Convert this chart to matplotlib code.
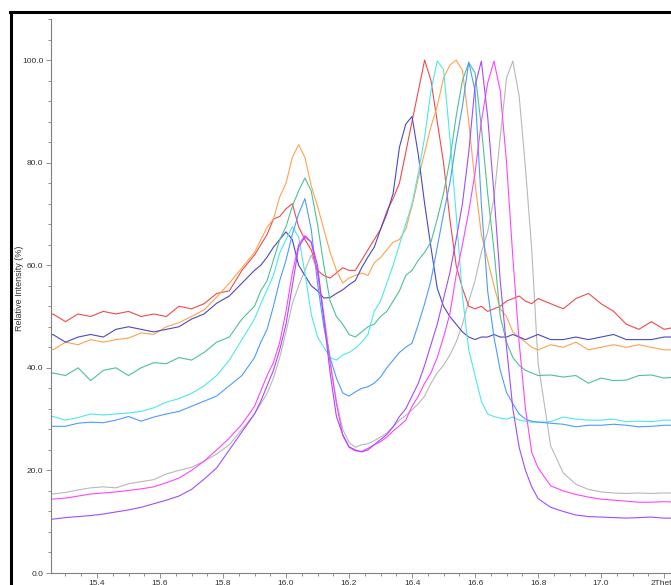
import matplotlib
matplotlib.use("Agg")
import matplotlib.pyplot as plt
from matplotlib.lines import Line2D
from matplotlib.ticker import MultipleLocator, FixedLocator, FixedFormatter

plt.rcParams['font.family'] = ['Liberation Sans', 'DejaVu Sans']

# 2Theta sampling (denser around the peaks)
two_theta = [15.22, 15.26, 15.30, 15.34, 15.38, 15.42, 15.46, 15.50, 15.54, 15.58,
             15.62, 15.66, 15.70, 15.74, 15.78, 15.82, 15.86, 15.90,
             15.92, 15.94, 15.96, 15.98, 16.00, 16.02, 16.04, 16.06, 16.08, 16.10,
             16.12, 16.14, 16.16, 16.18, 16.20, 16.22, 16.24, 16.26, 16.28, 16.30,
             16.32, 16.34, 16.36, 16.38, 16.40, 16.42, 16.44, 16.46, 16.48, 16.50,
             16.52, 16.54, 16.56, 16.58, 16.60, 16.62, 16.64, 16.66, 16.68, 16.70,
             16.72, 16.74, 16.76, 16.78, 16.80,
             16.84, 16.88, 16.92, 16.96, 17.00, 17.04, 17.08, 17.12, 17.16, 17.20, 17.24]

red = [49.5, 50.5, 49.0, 50.5, 50.0, 51.0, 50.5, 51.0, 50.0, 50.5, 50.0, 52.0, 51.5, 52.5, 54.5, 55.0, 59.0, 62.0,
       64.0, 66.0, 69.0, 69.5, 71.0, 72.0, 67.5, 65.0, 63.0, 59.0,
       58.0, 57.5, 58.5, 59.5, 59.0, 59.0, 61.0, 63.0, 65.0, 67.0,
       70.5, 73.0, 76.0, 82.0, 88.0, 94.0, 100.0, 96.0, 88.0, 80.0,
       69.0, 60.0, 55.5, 52.0, 51.5, 52.0, 51.0, 51.5, 52.0, 53.0,
       53.5, 54.0, 53.0, 52.5, 53.5,
       52.5, 51.5, 53.5, 54.5, 52.5, 51.0, 48.5, 47.5, 49.0, 47.5, 48.0]

orange = [44.5, 43.5, 45.0, 44.5, 45.5, 45.0, 45.5, 45.8, 46.8, 46.5, 48.0, 48.8, 50.0, 51.3, 53.8, 56.5, 59.5, 62.5,
          65.0, 67.4, 69.0, 73.3, 76.0, 81.0, 83.5, 81.0, 75.5, 71.5,
          67.0, 62.5, 59.0, 56.5, 57.5, 58.0, 58.5, 58.0, 60.5, 61.5,
          63.0, 64.5, 65.0, 67.0, 71.5, 77.0, 82.0, 87.0, 91.0, 96.5,
          99.0, 100.0, 98.0, 88.0, 76.0, 66.0, 61.0, 56.0, 51.5, 50.0,
          47.0, 46.0, 45.0, 44.0, 43.5,
          44.5, 44.0, 45.0, 43.5, 44.0, 44.5, 44.0, 44.5, 44.0, 43.5, 43.5]

navy = [45.5, 46.5, 45.0, 46.0, 46.5, 46.0, 47.5, 48.0, 47.5, 47.0, 47.5, 48.0, 49.5, 50.5, 52.6, 54.0, 56.5, 59.0,
        60.0, 61.6, 63.5, 65.0, 66.5, 65.0, 60.0, 58.0, 56.0, 55.0,
        53.6, 53.7, 54.5, 55.2, 56.2, 57.0, 59.5, 61.6, 63.5, 67.0,
        70.0, 74.0, 83.0, 87.5, 89.0, 81.5, 72.0, 63.5, 55.5, 52.0,
        50.0, 48.5, 47.0, 46.0, 45.5, 46.0, 46.0, 46.5, 46.0, 46.0,
        46.5, 46.0, 45.5, 46.0, 46.5,
        45.5, 45.5, 46.0, 45.5, 46.0, 46.5, 45.5, 45.5, 45.5, 46.0, 46.0]

green = [37.5, 39.0, 38.5, 40.0, 37.5, 39.5, 40.0, 38.5, 40.0, 41.0, 40.8, 42.0, 41.5, 43.0, 45.0, 46.0, 49.5, 52.0,
         55.0, 57.0, 61.0, 65.0, 67.5, 71.5, 74.5, 77.0, 74.5, 68.0,
         60.0, 53.0, 50.0, 48.5, 46.5, 46.0, 47.0, 48.0, 48.5, 50.0,
         51.0, 53.0, 55.0, 58.0, 59.0, 61.0, 62.5, 64.5, 69.0, 74.0,
         80.5, 89.0, 96.0, 99.5, 97.5, 87.0, 74.0, 63.0, 50.0, 45.0,
         42.0, 40.5, 39.5, 39.0, 38.5,
         38.6, 38.2, 38.5, 37.0, 38.0, 37.5, 37.6, 38.5, 38.6, 38.0, 38.2]

cyan = [30.0, 30.5, 29.8, 30.3, 31.0, 30.8, 31.0, 31.2, 31.5, 32.2, 33.3, 34.0, 35.0, 36.5, 38.5, 41.5, 45.5, 49.5,
        52.5, 55.2, 58.0, 62.4, 65.0, 67.5, 65.5, 58.5, 50.5, 46.0,
        44.0, 42.0, 41.5, 42.5, 43.0, 43.8, 45.0, 46.5, 51.0, 53.0,
        56.5, 60.0, 64.0, 68.0, 72.0, 78.0, 85.0, 94.0, 99.8, 98.2,
        85.0, 70.0, 54.0, 43.5, 38.5, 33.5, 31.0, 30.5, 30.2, 30.0,
        30.4, 29.8, 29.6, 29.4, 29.4,
        29.5, 30.4, 30.0, 29.8, 29.8, 30.0, 29.5, 29.6, 29.5, 29.8, 29.8]

light_blue = [29.2, 28.6, 28.6, 29.2, 29.4, 29.3, 29.8, 30.5, 29.6, 30.4, 31.0, 31.5, 32.5, 33.5, 34.5, 36.5, 38.5, 42.0,
              45.0, 47.5, 52.0, 57.0, 61.0, 66.0, 70.0, 73.0, 67.0, 56.5,
              48.0, 42.0, 38.0, 35.1, 34.5, 35.3, 36.0, 36.3, 37.0, 38.2,
              40.0, 41.5, 43.0, 44.0, 44.8, 48.5, 52.5, 57.0, 63.5, 70.0,
              76.0, 84.0, 91.0, 99.6, 94.0, 72.0, 55.0, 46.0, 39.5, 35.2,
              33.0, 31.0, 30.0, 29.6, 29.4,
              29.2, 29.0, 28.5, 28.8, 28.8, 29.0, 28.8, 28.5, 28.6, 28.8, 28.8]

gray = [15.5, 15.4, 15.7, 16.2, 16.6, 16.8, 16.6, 17.4, 17.8, 18.2, 19.3, 20.0, 20.6, 21.8, 23.2, 25.0, 28.0, 31.0,
        33.0, 35.0, 38.0, 42.0, 47.0, 52.5, 56.0, 59.0, 62.0, 59.0,
        50.5, 41.5, 33.5, 28.0, 25.5, 24.5, 25.0, 25.2, 25.8, 26.5,
        27.3, 28.5, 29.8, 30.7, 31.8, 33.0, 34.5, 37.0, 39.0, 40.5,
        42.5, 45.0, 48.5, 53.0, 57.0, 62.5, 66.5, 73.0, 85.0, 96.5,
        99.8, 93.0, 79.0, 63.0, 41.0,
        24.8, 19.5, 17.3, 16.3, 15.8, 15.6, 15.5, 15.6, 15.5, 15.6, 15.6]

magenta = [14.2, 14.4, 14.6, 15.0, 15.4, 15.6, 15.8, 16.1, 16.4, 16.8, 17.6, 18.5, 20.0, 21.8, 24.0, 26.3, 29.0, 32.5,
           35.5, 38.5, 41.0, 45.0, 51.0, 58.5, 64.0, 65.8, 64.5, 58.5,
           50.0, 41.0, 33.0, 26.8, 24.5, 23.8, 23.7, 24.3, 25.0, 25.6,
           26.5, 27.7, 28.7, 29.8, 32.5, 34.5, 37.0, 39.0, 42.0, 46.0,
           50.5, 58.0, 64.0, 70.5, 78.0, 88.0, 95.5, 99.8, 94.0, 80.0,
           61.5, 45.0, 32.0, 23.5, 20.5,
           17.0, 16.0, 15.3, 14.8, 14.4, 14.2, 14.0, 13.8, 13.8, 13.9, 13.8]

purple = [10.7, 10.5, 10.8, 11.0, 11.2, 11.5, 11.9, 12.3, 12.8, 13.5, 14.2, 15.0, 16.3, 18.3, 20.5, 24.0, 27.5, 31.0,
          33.5, 36.5, 39.5, 43.5, 48.5, 56.0, 63.5, 65.5, 64.5, 60.0,
          49.5, 39.0, 30.5, 27.0, 24.6, 24.0, 23.6, 24.0, 25.0, 26.0,
          27.0, 28.5, 30.5, 32.0, 34.5, 37.0, 40.5, 44.5, 48.5, 53.5,
          58.5, 65.0, 72.0, 82.0, 95.0, 99.8, 89.0, 74.0, 57.0, 44.0,
          32.0, 24.5, 20.0, 16.8, 14.5,
          12.8, 12.0, 11.3, 11.0, 10.9, 10.8, 10.7, 10.8, 10.9, 10.7, 10.7]

series = [(gray, '#b8b8b8'), (red, '#f04a4a'), (orange, '#ffa24e'), (navy, '#4a4ac2'),
          (green, '#4cc294'), (cyan, '#4ee8e8'), (light_blue, '#4c9cff'),
          (magenta, '#ff44ff'), (purple, '#a24cff')]

x_ticks = [15.4, 15.6, 15.8, 16.0, 16.2, 16.4, 16.6, 16.8, 17.0, 17.2]
x_labels = ['15.4', '15.6', '15.8', '16.0', '16.2', '16.4', '16.6', '16.8', '17.0', '2Theta']
y_ticks = [0, 20, 40, 60, 80, 100]
y_labels = ['0.0', '20.0', '40.0', '60.0', '80.0', '100.0']

W, H = 671, 585
fig = plt.figure(figsize=(W / 100, H / 100), dpi=100)
ax = fig.add_axes([51 / W, 12 / H, 620 / W, 554 / H])

for y, c in series:
    ax.plot(two_theta, y, color=c, lw=0.8)

ax.set_xlim(15.254, 17.222)
ax.set_ylim(0, 108)

for s in ['top', 'right']:
    ax.spines[s].set_visible(False)
for s in ['left', 'bottom']:
    ax.spines[s].set_color('#808080')
    ax.spines[s].set_linewidth(0.8)

ax.xaxis.set_major_locator(FixedLocator(x_ticks))
ax.xaxis.set_major_formatter(FixedFormatter(x_labels))
ax.xaxis.set_minor_locator(MultipleLocator(0.05))
ax.yaxis.set_major_locator(FixedLocator(y_ticks))
ax.yaxis.set_major_formatter(FixedFormatter(y_labels))
ax.yaxis.set_minor_locator(MultipleLocator(4))

ax.tick_params(which='both', direction='out', color='#808080', width=0.6,
               labelsize=6, labelcolor='#333333')
ax.tick_params(which='major', length=3.5)
ax.tick_params(which='minor', length=2.5)
ax.tick_params(axis='x', pad=1.5)
ax.tick_params(axis='y', pad=2)

fig.text(20 / W, 1 - 288 / H, 'Relative Intensity (%)', rotation=90,
         fontsize=6.5, color='#333333', ha='center', va='center')

# black frame of the screenshot window
fig.add_artist(Line2D([11 / W, 11 / W], [0, 1 - 11.5 / H], color='black', lw=2.2,
                      transform=fig.transFigure))
fig.add_artist(Line2D([10 / W, 1], [1 - 11.5 / H, 1 - 11.5 / H], color='black', lw=2.2,
                      transform=fig.transFigure))

fig.savefig('out.png', dpi=100)
